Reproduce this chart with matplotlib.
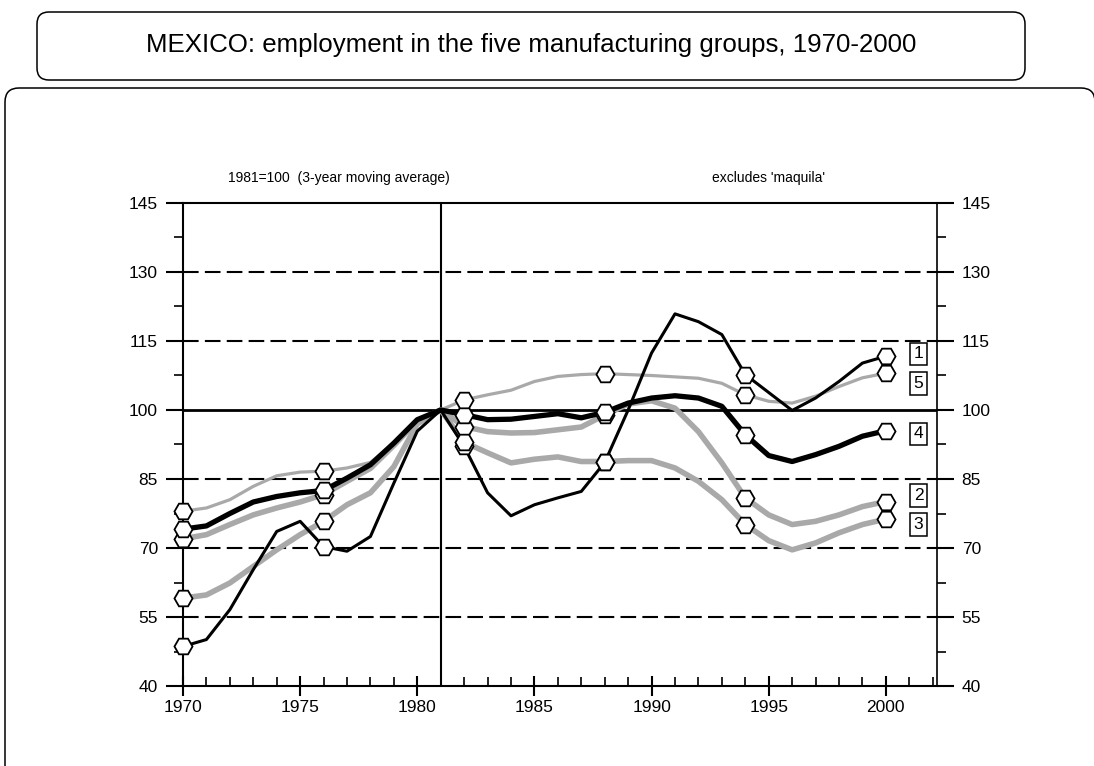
import numpy as np
import matplotlib
matplotlib.use("Agg")
import matplotlib.pyplot as plt
from matplotlib.patches import FancyBboxPatch
from matplotlib.transforms import IdentityTransform

plt.rcParams['font.family'] = ['Liberation Sans', 'DejaVu Sans']

years = list(range(1970, 2001))

# group 1 (thin black)
g1 = [48.6, 50.1, 56.6, 65.3, 73.6, 75.8, 70.3, 69.3, 72.5, 84.1, 95.4, 100.0,
      92.1, 82.0, 77.0, 79.4, 80.9, 82.3, 88.6, 100.0, 112.4, 120.9, 119.2, 116.4,
      107.7, 103.8, 99.9, 102.6, 106.2, 110.2, 111.7]
# group 2 (thick grey)
g2 = [72.0, 72.9, 75.1, 77.2, 78.7, 80.0, 81.6, 84.5, 87.3, 92.3, 97.6, 100.0,
      96.4, 95.3, 95.0, 95.1, 95.7, 96.3, 98.9, 101.3, 102.0, 100.4, 95.3, 88.5,
      80.9, 77.2, 75.1, 75.8, 77.2, 79.0, 80.1]
# group 3 (thick grey)
g3 = [59.1, 59.8, 62.4, 66.0, 69.6, 72.9, 75.8, 79.4, 82.0, 87.7, 97.0, 100.0,
      93.0, 90.7, 88.5, 89.3, 89.8, 88.8, 88.8, 89.0, 89.0, 87.4, 84.5, 80.5,
      75.1, 71.6, 69.6, 71.1, 73.3, 75.1, 76.3]
# group 4 (thick black)
g4 = [74.1, 74.8, 77.5, 80.0, 81.2, 82.0, 82.5, 85.2, 88.1, 92.8, 97.9, 100.0,
      99.0, 97.9, 98.0, 98.6, 99.2, 98.3, 99.5, 101.5, 102.6, 103.1, 102.6, 100.8,
      94.6, 90.1, 88.8, 90.3, 92.1, 94.3, 95.5]
# group 5 (thin grey)
g5 = [78.0, 78.7, 80.5, 83.4, 85.7, 86.5, 86.7, 87.4, 88.6, 92.8, 97.9, 100.0,
      102.2, 103.3, 104.3, 106.2, 107.3, 107.7, 107.9, 107.7, 107.5, 107.2, 106.9, 105.8,
      103.3, 101.9, 101.5, 103.0, 105.1, 107.0, 108.0]

labels = ['1', '5', '4', '2', '3']
label_y = [112.2, 105.7, 94.8, 81.4, 75.1]

yticks = [40, 55, 70, 85, 100, 115, 130, 145]
xticks = [1970, 1975, 1980, 1985, 1990, 1995, 2000]

grey = '#a9a9a9'

fig = plt.figure(figsize=(10.94, 7.66), dpi=100)

# frames around title and chart (pixel coords)
tbox = FancyBboxPatch((37, 766 - 80), 988, 68, boxstyle="round,pad=0,rounding_size=12",
                      transform=IdentityTransform(), fc='white', ec='black', lw=1.1)
fig.patches.append(tbox)
mbox = FancyBboxPatch((5, -20), 1090, 766 - 88 + 20, boxstyle="round,pad=0,rounding_size=14",
                      transform=IdentityTransform(), fc='none', ec='black', lw=1.1)
fig.patches.append(mbox)
fig.text(531 / 1094, 1 - 45 / 766, 'MEXICO: employment in the five manufacturing groups, 1970-2000',
         ha='center', va='center', fontsize=18.6)

ax = fig.add_axes([183 / 1094, 1 - 686 / 766, 753.7 / 1094, 483 / 766])

for y in [55, 70, 85, 115, 130]:
    ax.axhline(y, color='black', lw=1.5, linestyle=(0, (7.5, 3)), zorder=1)
ax.axhline(100, color='black', lw=2, zorder=1)
ax.axvline(1981, color='black', lw=1.5, zorder=1)

ax.plot(years, g3, color=grey, lw=4, zorder=2)
ax.plot(years, g2, color=grey, lw=4, zorder=2)
ax.plot(years, g5, color=grey, lw=2.3, zorder=2)
ax.plot(years, g4, color='black', lw=3.8, zorder=3)
ax.plot(years, g1, color='black', lw=2.2, zorder=3)

for s in [g1, g2, g3, g4, g5]:
    ax.plot(years[::6], s[::6], 'H', ms=13, mfc='white', mec='black', mew=1.3, zorder=5, clip_on=False)

for lab, y in zip(labels, label_y):
    ax.text(2001.4, y, lab, ha='center', va='center', fontsize=12.5,
            bbox=dict(boxstyle='square,pad=0.22', fc='white', ec='black', lw=1.1))

ax.text(1971.9, 150.5, '1981=100  (3-year moving average)', fontsize=10, ha='left', va='center')
ax.text(1997.4, 150.5, "excludes 'maquila'", fontsize=10, ha='right', va='center')

ax.set_xlim(1970, 2002.17)
ax.set_ylim(40, 145)
ax.set_xticks(xticks)
ax.set_xticks(range(1970, 2003), minor=True)
ax.set_yticks(yticks)
ax.set_yticks(np.arange(47.5, 145, 15), minor=True)

ax.tick_params(axis='x', which='major', direction='inout', length=14, width=1.5, labelsize=12.5, pad=3)
ax.tick_params(axis='x', which='minor', direction='in', length=6.5, width=1.2)
ax.tick_params(axis='y', which='major', direction='out', length=12, width=1.5, labelsize=12.5,
               right=True, labelright=True, pad=6)
ax.tick_params(axis='y', which='minor', direction='out', length=6.5, width=1.2, right=True)

for side in ['left', 'bottom', 'top']:
    ax.spines[side].set_linewidth(1.5)
ax.spines['right'].set_linewidth(1.2)

fig.savefig('out.png', dpi=100)
